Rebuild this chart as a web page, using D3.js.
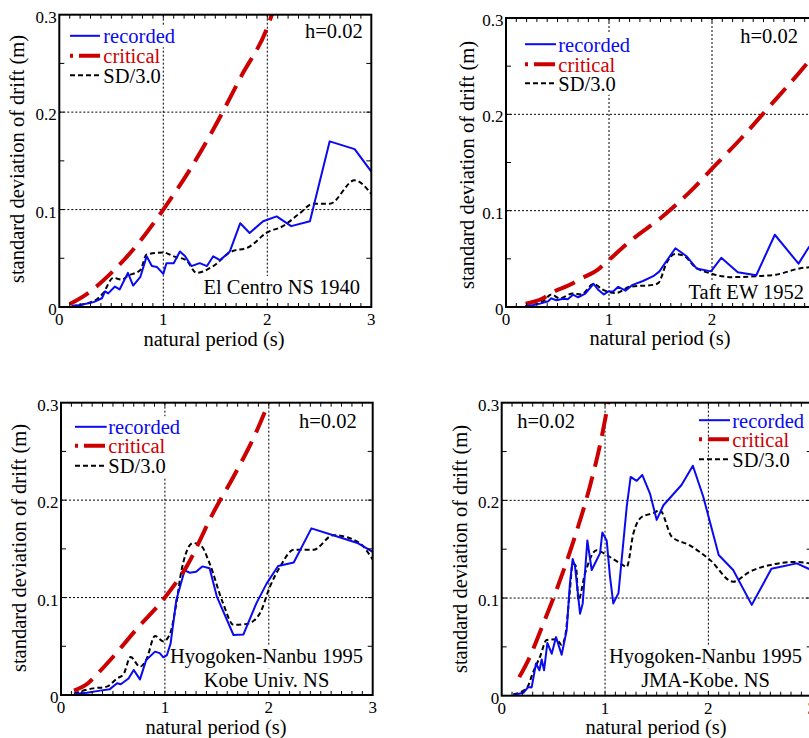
<!DOCTYPE html>
<html><head><meta charset="utf-8">
<script src="https://cdn.jsdelivr.net/npm/d3@7/dist/d3.min.js"></script>
<style>
body{margin:0;background:#fff}
svg text{font-family:"Liberation Serif","DejaVu Serif","Times New Roman",serif;}
</style>
</head><body>
<svg id="chart" width="809" height="738" font-family="Liberation Serif, DejaVu Serif, serif"></svg>
<script>
// ---------- data ----------
const xTicks = [0, 1, 2, 3];
const xTickLabels = ["0", "1", "2", "3"];
const yTicks = [0, 0.1, 0.2, 0.3];
const yTickLabels = ["0", "0.1", "0.2", "0.3"];
const legendLabels = ["recorded", "critical", "SD/3.0"];
const dampingLabel = "h=0.02";
const xAxisTitle = "natural period (s)";
const yAxisTitle = "standard deviation of drift (m)";
const stationLabels = [
  ["El Centro NS 1940"],
  ["Taft EW 1952"],
  ["Hyogoken-Nanbu 1995", "Kobe Univ. NS"],
  ["Hyogoken-Nanbu 1995", "JMA-Kobe. NS"]
];

// [natural period (s), std. dev. of drift (m)]
const recordedElCentro = [[0.12,0.001],[0.2,0.002],[0.33,0.005],[0.41,0.009],[0.44,0.016],[0.47,0.014],[0.535,0.021],[0.58,0.018],[0.66,0.035],[0.71,0.022],[0.78,0.031],[0.84,0.052],[0.89,0.042],[0.94,0.041],[1.0,0.034],[1.03,0.045],[1.1,0.045],[1.16,0.057],[1.21,0.052],[1.27,0.042],[1.35,0.045],[1.42,0.042],[1.48,0.052],[1.545,0.048],[1.64,0.057],[1.74,0.086],[1.83,0.076],[1.96,0.088],[2.09,0.093],[2.23,0.083],[2.41,0.088],[2.6,0.170],[2.84,0.162],[3.0,0.139]];
const criticalElCentro = [[0.1,0.003],[0.26,0.013],[0.5,0.035],[0.75,0.064],[1.0,0.100],[1.25,0.14],[1.5,0.186],[1.75,0.237],[2.0,0.287],[2.06,0.305]];
const sdElCentro = [[0.12,0.001],[0.33,0.006],[0.42,0.014],[0.52,0.030],[0.6,0.028],[0.66,0.032],[0.78,0.038],[0.84,0.054],[1.0,0.056],[1.1,0.052],[1.22,0.048],[1.32,0.035],[1.48,0.042],[1.64,0.056],[1.83,0.062],[1.99,0.076],[2.15,0.083],[2.31,0.096],[2.44,0.106],[2.6,0.106],[2.84,0.130],[3.0,0.116]];

const recordedTaft = [[0.19,0.001],[0.265,0.002],[0.33,0.0035],[0.41,0.006],[0.44,0.009],[0.49,0.007],[0.556,0.0086],[0.6,0.008],[0.65,0.0128],[0.70,0.010],[0.77,0.014],[0.85,0.024],[0.895,0.018],[0.95,0.013],[0.99,0.016],[1.04,0.016],[1.09,0.021],[1.16,0.017],[1.23,0.023],[1.33,0.027],[1.43,0.032],[1.49,0.037],[1.56,0.048],[1.645,0.061],[1.75,0.053],[1.85,0.040],[1.99,0.037],[2.09,0.051],[2.25,0.036],[2.43,0.033],[2.61,0.075],[2.84,0.045],[2.94,0.062],[3.0,0.07]];
const criticalTaft = [[0.19,0.0035],[0.36,0.009],[0.44,0.0145],[0.62,0.023],[0.72,0.029],[0.895,0.039],[0.99,0.048],[1.23,0.0705],[1.52,0.094],[1.78,0.119],[2.04,0.148],[2.3,0.177],[2.54,0.206],[2.9,0.25],[3.0,0.263]];
const sdTaft = [[0.19,0.001],[0.36,0.006],[0.44,0.013],[0.52,0.009],[0.65,0.014],[0.73,0.013],[0.85,0.024],[0.94,0.018],[1.07,0.0145],[1.2,0.021],[1.43,0.023],[1.48,0.025],[1.56,0.046],[1.64,0.055],[1.73,0.053],[1.83,0.042],[1.98,0.035],[2.2,0.031],[2.43,0.032],[2.62,0.0335],[2.85,0.040],[3.0,0.042]];

const recordedKobeUniv = [[0.125,0.001],[0.25,0.0024],[0.375,0.0045],[0.47,0.006],[0.54,0.012],[0.575,0.011],[0.65,0.017],[0.70,0.0257],[0.76,0.016],[0.82,0.036],[0.905,0.0445],[0.95,0.043],[0.985,0.0387],[1.02,0.041],[1.055,0.053],[1.11,0.0975],[1.19,0.128],[1.24,0.1255],[1.3,0.1265],[1.36,0.132],[1.43,0.130],[1.5,0.101],[1.66,0.0616],[1.755,0.062],[1.88,0.094],[1.98,0.1146],[2.09,0.1324],[2.24,0.136],[2.41,0.171],[2.62,0.164],[2.86,0.1557],[3.0,0.147]];
const criticalKobeUniv = [[0.125,0.0045],[0.26,0.012],[0.34,0.0205],[0.5,0.039],[0.73,0.068],[1.0,0.1],[1.21,0.132],[1.47,0.188],[1.66,0.224],[1.88,0.27],[2.01,0.303]];
const sdKobeUniv = [[0.125,0.0017],[0.31,0.0068],[0.44,0.0086],[0.54,0.017],[0.6,0.021],[0.67,0.039],[0.76,0.029],[0.82,0.036],[0.905,0.0605],[0.985,0.055],[1.05,0.063],[1.11,0.094],[1.16,0.128],[1.27,0.156],[1.35,0.153],[1.43,0.135],[1.56,0.094],[1.66,0.072],[1.79,0.073],[1.915,0.084],[2.01,0.111],[2.11,0.132],[2.24,0.149],[2.43,0.149],[2.62,0.164],[2.86,0.157],[3.0,0.139]];

const recordedJMAKobe = [[0.113,0.0007],[0.21,0.003],[0.258,0.009],[0.29,0.0085],[0.332,0.033],[0.365,0.026],[0.387,0.037],[0.41,0.026],[0.442,0.054],[0.484,0.043],[0.526,0.06],[0.58,0.042],[0.629,0.067],[0.66,0.115],[0.687,0.14],[0.71,0.132],[0.758,0.084],[0.784,0.0945],[0.829,0.159],[0.871,0.1287],[0.919,0.139],[0.952,0.146],[0.974,0.167],[1.016,0.159],[1.048,0.122],[1.08,0.0945],[1.13,0.105],[1.21,0.1935],[1.248,0.224],[1.306,0.22],[1.36,0.226],[1.435,0.207],[1.5,0.18],[1.565,0.195],[1.74,0.2157],[1.85,0.2355],[1.95,0.204],[2.1,0.144],[2.24,0.1287],[2.42,0.093],[2.61,0.130],[2.855,0.1355],[2.97,0.13],[3.0,0.128]];
const criticalJMAKobe = [[0.17,0.019],[0.26,0.037],[0.4,0.073],[0.55,0.114],[0.7,0.16],[0.85,0.213],[0.95,0.256],[1.035,0.302]];
const sdJMAKobe = [[0.113,0.0014],[0.24,0.0075],[0.306,0.0246],[0.371,0.04],[0.435,0.057],[0.532,0.0577],[0.58,0.052],[0.613,0.06],[0.66,0.108],[0.687,0.1355],[0.72,0.132],[0.742,0.098],[0.806,0.125],[0.919,0.149],[1.016,0.144],[1.145,0.1355],[1.21,0.132],[1.274,0.166],[1.355,0.183],[1.468,0.187],[1.53,0.19],[1.645,0.163],[1.82,0.154],[2.016,0.139],[2.24,0.1167],[2.4,0.127],[2.63,0.1345],[2.855,0.137],[3.0,0.135]];

const recordedSeries = [recordedElCentro, recordedTaft, recordedKobeUniv, recordedJMAKobe];
const criticalSeries = [criticalElCentro, criticalTaft, criticalKobeUniv, criticalJMAKobe];
const sdSeries = [sdElCentro, sdTaft, sdKobeUniv, sdJMAKobe];

// ---------- layout ----------
const layout = [
  {l:59.3, r:371.3, t:14.7, b:307,
   leg:{x0:70, x1:100, tx:103.3, base:[43.3,63.3,82.7]},
   h:{x:362.7, y:38.3, anchor:"end"},
   st:{x:360, anchor:"end", base:[294]},
   ylab:{x:24, y:159}, xlab:{x:214, y:345.6}},
  {l:506, r:815, t:18, b:307,
   leg:{x0:525, x1:556, tx:558.3, base:[51.7,71.7,90.7]},
   h:{x:798, y:43.3, anchor:"end"},
   st:{x:804, anchor:"end", base:[299.3]},
   ylab:{x:474, y:165}, xlab:{x:660, y:345}},
  {l:61, r:372.7, t:402.7, b:695,
   leg:{x0:75, x1:106.7, tx:108.3, base:[434.3,453.3,473.3]},
   h:{x:356.7, y:428.3, anchor:"end"},
   st:{x:266.5, anchor:"middle", base:[663.3,686.7]},
   ylab:{x:26, y:548}, xlab:{x:216, y:734}},
  {l:501.7, r:811.7, t:402.7, b:695.7,
   leg:{x0:699, x1:730, tx:732.3, base:[427.7,446.7,466.7]},
   h:{x:517.3, y:428.3, anchor:"start"},
   st:{x:705.5, anchor:"middle", base:[663.3,686.7]},
   ylab:{x:467, y:549}, xlab:{x:656, y:734}}
];

const FONT = "Liberation Serif, DejaVu Serif, serif";
const BLUE = "#0a0af0", RED = "#cc0000", BLACK = "#000";
const svg = d3.select("#chart");

function addText(g, x, y, str, opts) {
  return g.append("text").attr("x", x).attr("y", y)
    .attr("font-family", FONT)
    .attr("text-anchor", opts.anchor || "start")
    .attr("font-size", opts.size || 20.5)
    .attr("fill", opts.fill || BLACK)
    .text(str);
}
function textWithBg(g, bgLayer, x, y, str, opts) {
  const t = addText(g, x, y, str, opts);
  const bb = t.node().getBBox();
  bgLayer.append("rect").attr("x", bb.x - 1).attr("y", bb.y)
    .attr("width", bb.width + 2).attr("height", bb.height)
    .attr("fill", "#fff");
  return t;
}

layout.forEach((L, i) => {
  const x = d3.scaleLinear().domain([0, 3]).range([L.l, L.r]);
  const y = d3.scaleLinear().domain([0, 0.3]).range([L.b, L.t]);
  const g = svg.append("g");

  const clipId = "clip" + i;
  g.append("clipPath").attr("id", clipId).append("rect")
    .attr("x", L.l).attr("y", L.t).attr("width", L.r - L.l).attr("height", L.b - L.t);

  // gridlines
  const grid = g.append("g").attr("stroke", BLACK).attr("stroke-width", 1).attr("stroke-dasharray", "2,2");
  [1, 2].forEach(v => grid.append("line").attr("x1", x(v)).attr("x2", x(v)).attr("y1", L.t).attr("y2", L.b));
  [0.1, 0.2].forEach(v => grid.append("line").attr("x1", L.l).attr("x2", L.r).attr("y1", y(v)).attr("y2", y(v)));

  const bgLayer = g.append("g");
  const lineLayer = g.append("g").attr("clip-path", `url(#${clipId})`);
  const textLayer = g.append("g");

  const line = d3.line().x(d => x(d[0])).y(d => y(d[1]));
  lineLayer.append("path").datum(sdSeries[i]).attr("d", line.curve(d3.curveMonotoneX))
    .attr("fill", "none").attr("stroke", BLACK).attr("stroke-width", 2).attr("stroke-dasharray", "5,3");
  lineLayer.append("path").datum(recordedSeries[i]).attr("d", line.curve(d3.curveLinear))
    .attr("fill", "none").attr("stroke", BLUE).attr("stroke-width", 2).attr("stroke-linejoin", "round");
  lineLayer.append("path").datum(criticalSeries[i]).attr("d", line.curve(d3.curveMonotoneX))
    .attr("fill", "none").attr("stroke", RED).attr("stroke-width", 4).attr("stroke-dasharray", "22,10");

  // legend
  const legColors = [BLUE, RED, BLACK];
  legendLabels.forEach((lab, k) => {
    const by = L.leg.base[k];
    const ly = by - 7.5;
    const ln = g.append("line").attr("x1", L.leg.x0).attr("x2", L.leg.x1).attr("y1", ly).attr("y2", ly)
      .attr("stroke", legColors[k]);
    if (k === 0) ln.attr("stroke-width", 2);
    if (k === 1) ln.attr("stroke-width", 4).attr("stroke-dasharray", "21,6").attr("stroke-dashoffset", 18);
    if (k === 2) ln.attr("stroke-width", 2).attr("stroke-dasharray", "5,3");
    textWithBg(textLayer, bgLayer, L.leg.tx, by, lab, {fill: legColors[k]});
  });

  textWithBg(textLayer, bgLayer, L.h.x, L.h.y, dampingLabel, {anchor: L.h.anchor});
  stationLabels[i].forEach((s, k) => {
    textWithBg(textLayer, bgLayer, L.st.x, L.st.base[k], s, {anchor: L.st.anchor});
  });

  // frame
  g.append("rect").attr("x", L.l).attr("y", L.t).attr("width", L.r - L.l).attr("height", L.b - L.t)
    .attr("fill", "none").attr("stroke", BLACK).attr("stroke-width", 2);

  // ticks
  const tk = g.append("g").attr("stroke", BLACK).attr("stroke-width", 1);
  d3.range(1, 30).forEach(j => {
    const xv = x(j / 10);
    tk.append("line").attr("x1", xv).attr("x2", xv).attr("y1", L.b).attr("y2", L.b - 4);
    tk.append("line").attr("x1", xv).attr("x2", xv).attr("y1", L.t).attr("y2", L.t + 4);
  });
  d3.range(1, 6).forEach(j => {
    const yv = y(j * 0.05);
    tk.append("line").attr("x1", L.l).attr("x2", L.l + 5).attr("y1", yv).attr("y2", yv);
    tk.append("line").attr("x1", L.r).attr("x2", L.r - 5).attr("y1", yv).attr("y2", yv);
  });

  // tick labels
  xTicks.forEach((v, k) => addText(g, x(v), L.b + 18, xTickLabels[k], {anchor: "middle", size: 17}));
  yTicks.forEach((v, k) => addText(g, L.l - 2.5, y(v) + 8, yTickLabels[k], {anchor: "end", size: 17}));

  // axis titles
  addText(g, L.xlab.x, L.xlab.y, xAxisTitle, {anchor: "middle"});
  addText(g, 0, 0, yAxisTitle, {anchor: "middle"})
    .attr("transform", `translate(${L.ylab.x},${L.ylab.y}) rotate(-90)`);
});
</script>
</body></html>
